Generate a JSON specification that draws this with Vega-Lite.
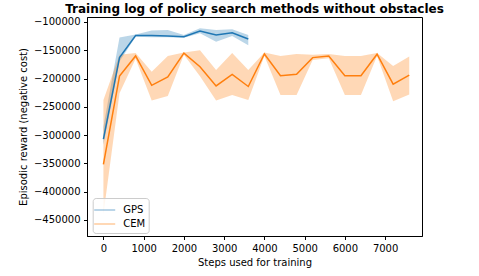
{
  "$schema": "https://vega.github.io/schema/vega-lite/v6.json",
  "width": 335,
  "height": 219,
  "autosize": {"type": "none"},
  "padding": {"left": 87, "top": 17, "right": 57, "bottom": 40},
  "background": "white",
  "title": {"text": "Training log of policy search methods without obstacles", "fontSize": 12, "fontWeight": "bold", "font": "DejaVu Sans", "color": "black", "offset": 1, "frame": "group", "anchor": "middle"},
  "config": {
    "font": "DejaVu Sans",
    "view": {"stroke": "black", "strokeWidth": 1},
    "axis": {"grid": false, "tickSize": 3.5, "labelPadding": 3.5, "labelFontSize": 10, "titleFontSize": 10, "titleFontWeight": "normal", "labelColor": "black", "titleColor": "black", "tickColor": "black", "domainColor": "black", "labelFont": "DejaVu Sans", "titleFont": "DejaVu Sans", "labelFlush": false, "labelOverlap": false}
  },
  "data": {"values": [
    {"method": "GPS", "step": 0, "mean": -307000, "lo": -317000, "hi": -285000},
    {"method": "GPS", "step": 400, "mean": -163000, "lo": -170000, "hi": -127500},
    {"method": "GPS", "step": 800, "mean": -124000, "lo": -126000, "hi": -122000},
    {"method": "GPS", "step": 1200, "mean": -124000, "lo": -127000, "hi": -115000},
    {"method": "GPS", "step": 1600, "mean": -125000, "lo": -127000, "hi": -114000},
    {"method": "GPS", "step": 2000, "mean": -126000, "lo": -128000, "hi": -123000},
    {"method": "GPS", "step": 2400, "mean": -116000, "lo": -120000, "hi": -111000},
    {"method": "GPS", "step": 2800, "mean": -123000, "lo": -135000, "hi": -114000},
    {"method": "GPS", "step": 3200, "mean": -119000, "lo": -125000, "hi": -113000},
    {"method": "GPS", "step": 3600, "mean": -130000, "lo": -141000, "hi": -123000},
    {"method": "CEM", "step": 0, "mean": -351500, "lo": -440000, "hi": -238000},
    {"method": "CEM", "step": 400, "mean": -195500, "lo": -226000, "hi": -158000},
    {"method": "CEM", "step": 800, "mean": -160000, "lo": -165000, "hi": -155000},
    {"method": "CEM", "step": 1200, "mean": -212000, "lo": -239000, "hi": -188000},
    {"method": "CEM", "step": 1600, "mean": -197000, "lo": -231000, "hi": -160000},
    {"method": "CEM", "step": 2000, "mean": -155000, "lo": -158000, "hi": -154000},
    {"method": "CEM", "step": 2400, "mean": -179000, "lo": -196000, "hi": -150000},
    {"method": "CEM", "step": 2800, "mean": -213000, "lo": -239000, "hi": -185000},
    {"method": "CEM", "step": 3200, "mean": -192500, "lo": -229000, "hi": -155000},
    {"method": "CEM", "step": 3600, "mean": -214000, "lo": -238000, "hi": -185000},
    {"method": "CEM", "step": 4000, "mean": -156500, "lo": -160000, "hi": -154000},
    {"method": "CEM", "step": 4400, "mean": -195000, "lo": -229000, "hi": -160000},
    {"method": "CEM", "step": 4800, "mean": -192500, "lo": -229000, "hi": -156500},
    {"method": "CEM", "step": 5200, "mean": -163000, "lo": -167000, "hi": -158000},
    {"method": "CEM", "step": 5600, "mean": -160000, "lo": -164000, "hi": -156500},
    {"method": "CEM", "step": 6000, "mean": -195000, "lo": -229000, "hi": -160000},
    {"method": "CEM", "step": 6400, "mean": -195000, "lo": -229000, "hi": -160000},
    {"method": "CEM", "step": 6800, "mean": -157000, "lo": -160000, "hi": -155000},
    {"method": "CEM", "step": 7200, "mean": -210000, "lo": -240000, "hi": -178000},
    {"method": "CEM", "step": 7600, "mean": -194000, "lo": -228000, "hi": -161000}
  ]},
  "encoding": {
    "x": {"field": "step", "type": "quantitative", "scale": {"domain": [-408, 7917], "nice": false, "zero": false}, "axis": {"values": [0, 1000, 2000, 3000, 4000, 5000, 6000, 7000], "format": "d", "title": "Steps used for training", "titlePadding": 4, "labelOverlap": false}}
  },
  "layer": [
    {
      "mark": {"type": "area", "opacity": 0.3},
      "encoding": {
        "y": {"field": "lo", "type": "quantitative", "scale": {"domain": [-478300, -91200], "nice": false, "zero": false}, "axis": {"values": [-450000, -400000, -350000, -300000, -250000, -200000, -150000, -100000], "format": "d", "title": "Episodic reward (negative cost)", "titlePadding": 5, "labelOverlap": false}},
        "y2": {"field": "hi"},
        "color": {"field": "method", "type": "nominal", "scale": {"domain": ["GPS", "CEM"], "range": ["#1f77b4", "#ff7f0e"]}}
      }
    },
    {
      "mark": {"type": "line", "strokeWidth": 1.5},
      "encoding": {
        "y": {"field": "mean", "type": "quantitative", "axis": {"values": [-450000, -400000, -350000, -300000, -250000, -200000, -150000, -100000], "format": "d", "title": "Episodic reward (negative cost)", "titlePadding": 5, "labelOverlap": false}},
        "color": {"field": "method", "type": "nominal", "legend": {"title": null, "orient": "none", "legendX": 5.7, "legendY": 181, "symbolType": "M-1.4,0H1.4", "symbolSize": 225, "symbolStrokeWidth": 2, "symbolOpacity": 1, "symbolFillColor": "transparent", "labelFontSize": 10, "labelColor": "black", "labelOffset": 10, "padding": 3.5, "rowPadding": 0, "strokeColor": "#cccccc", "fillColor": "rgba(255,255,255,0.8)", "cornerRadius": 3}}
      }
    }
  ]
}
